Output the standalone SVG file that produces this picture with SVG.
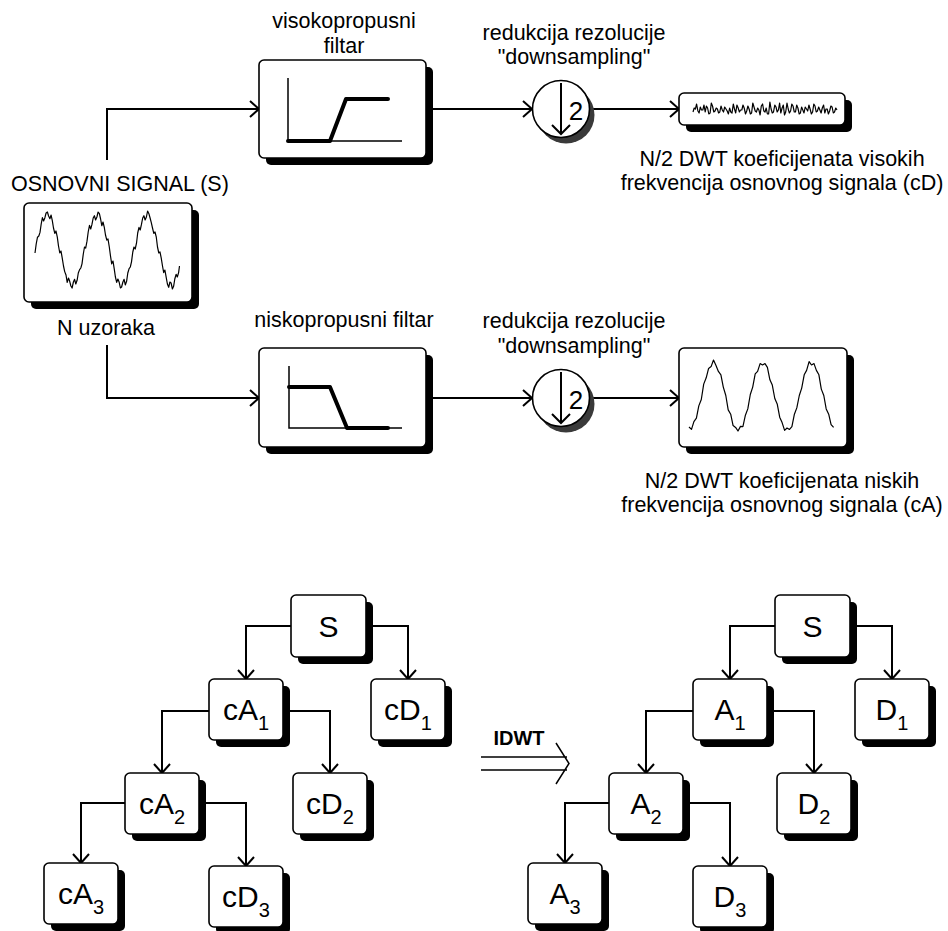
<svg xmlns="http://www.w3.org/2000/svg" width="948" height="931" viewBox="0 0 948 931">
<defs>
<style>
.box{fill:#fff;stroke:#000;stroke-width:1.6}
.sh{fill:#000}
.conn{fill:none;stroke:#000;stroke-width:2}
.ax{fill:none;stroke:#000;stroke-width:1.5}
.thick{fill:none;stroke:#000;stroke-width:4;stroke-linecap:round;stroke-linejoin:round}
.wave{fill:none;stroke:#000;stroke-width:1.2;stroke-linejoin:round}
.lbl{font-family:"Liberation Sans",Arial,sans-serif;font-size:21.5px;text-anchor:middle;fill:#000}
.nd{font-family:"Liberation Sans",Arial,sans-serif;font-size:30px;text-anchor:middle;fill:#000}
.sub{font-size:20px}
</style>
<marker id="arr" viewBox="-11 -10 12 20" refX="0" refY="0" markerWidth="12" markerHeight="20" markerUnits="userSpaceOnUse" orient="auto" overflow="visible">
<path d="M-9,-8 L0,0 L-9,8" fill="none" stroke="#000" stroke-width="2"/>
</marker>
</defs>
<rect width="948" height="931" fill="#fff"/>

<g id="connectors">
<path class="conn" d="M107,160 V109 H259" marker-end="url(#arr)"/>
<path class="conn" d="M426,109 H532" marker-end="url(#arr)"/>
<path class="conn" d="M589,109 H679" marker-end="url(#arr)"/>
<path class="conn" d="M107,345 V398 H259" marker-end="url(#arr)"/>
<path class="conn" d="M426,398 H532" marker-end="url(#arr)"/>
<path class="conn" d="M589,398 H679" marker-end="url(#arr)"/>
<path class="conn" d="M291,626 H246 V679" marker-end="url(#arr)"/>
<path class="conn" d="M366,626 H408 V679" marker-end="url(#arr)"/>
<path class="conn" d="M209,711 H162 V773" marker-end="url(#arr)"/>
<path class="conn" d="M283,711 H330 V773" marker-end="url(#arr)"/>
<path class="conn" d="M125,803 H81 V863" marker-end="url(#arr)"/>
<path class="conn" d="M199,803 H246 V866" marker-end="url(#arr)"/>
<path class="conn" d="M775,626 H730 V679" marker-end="url(#arr)"/>
<path class="conn" d="M850,626 H892 V679" marker-end="url(#arr)"/>
<path class="conn" d="M693,711 H646 V773" marker-end="url(#arr)"/>
<path class="conn" d="M767,711 H814 V773" marker-end="url(#arr)"/>
<path class="conn" d="M609,803 H565 V863" marker-end="url(#arr)"/>
<path class="conn" d="M683,803 H730 V866" marker-end="url(#arr)"/>
</g>

<g id="signal">
<text class="lbl" x="11" y="191" style="text-anchor:start">OSNOVNI SIGNAL (S)</text>
<rect class="sh" x="31" y="210" width="168" height="99" rx="5"/>
<rect class="box" x="24" y="203" width="168" height="99" rx="5"/>
<polyline class="wave" points="35,253 36.2,244 37.5,237.2 38.8,236 40,232.4 41.2,224 42.4,217.7 43.6,221 44.9,217.7 46.1,213 47.4,212 48.6,216 49.9,218.7 51.1,215 52.3,220.7 53.5,228 54.8,233.4 56,231 57.3,237.2 58.5,246 59.8,253 61,251 62.2,257.8 63.5,266 64.7,271.6 66,275 67.2,282.3 68.5,278 69.7,281.3 70.9,286 72.1,288 73.4,282 74.6,279.3 75.8,284 77.1,280.3 78.3,273 79.6,269.6 80.8,268 82,263.8 83.3,254 84.5,247 85.7,248 87,241.2 88.2,232 89.5,225.4 90.7,229 91.9,224.7 93.2,218 94.4,215.7 95.6,220 96.9,217 98.1,212 99.4,213.7 100.6,219 101.8,225.7 103,222 104.3,227.4 105.5,235 106.8,240.2 108,239 109.3,247 110.5,256 111.7,263.8 113,261 114.2,268.6 115.4,277 116.7,282.3 117.9,279 119.2,282.3 120.4,288 121.6,287 122.9,282 124.1,279.3 125.3,285 126.6,281.3 127.8,273 129.1,268.6 130.3,267 131.5,261.8 132.8,252 134,247 135.2,249 136.5,243.2 137.7,233 139,227.4 140.2,230 141.4,224.7 142.7,218 143.9,215.7 145.1,220 146.4,217 147.6,211 148.9,213.7 150.1,218 151.3,222.7 152.5,228 153.8,233.4 155,232 156.3,237.2 157.5,247 158.8,253 160,252 161.2,257.8 162.5,266 163.7,272.6 164.9,270 166.2,277.3 167.4,284 168.7,287.3 169.9,282 171.1,283 172.4,289 173.6,286.3 174.8,279 176.1,274.3 177.3,277 178.6,272.6 179.5,266"/>
<text class="lbl" x="106" y="335">N uzoraka</text>
</g>

<g id="hpf">
<text class="lbl" x="344" y="28">visokopropusni</text>
<text class="lbl" x="344" y="53">filtar</text>
<rect class="sh" x="266" y="67" width="167" height="98" rx="5"/>
<rect class="box" x="259" y="60" width="167" height="98" rx="5"/>
<path class="ax" d="M288,78 V141 H402"/>
<path class="thick" d="M288,141 H330 L346,99 H388"/>
</g>

<g id="lpf">
<text class="lbl" x="344" y="327">niskopropusni filtar</text>
<rect class="sh" x="266" y="355" width="167" height="99" rx="5"/>
<rect class="box" x="259" y="348" width="167" height="99" rx="5"/>
<path class="ax" d="M289,366 V428 H402"/>
<path class="thick" d="M289,387 H330 L347,428 H388"/>
</g>

<g id="down1">
<text class="lbl" x="574" y="40">redukcija rezolucije</text>
<text class="lbl" x="574" y="64">"downsampling"</text>
<circle cx="566" cy="115" r="28.5" fill="#3a3a3a"/>
<circle cx="561" cy="109" r="28.5" fill="#fff" stroke="#000" stroke-width="1.6"/>
<path d="M561,83 V134 M552,125 L561,134 L570,125" fill="none" stroke="#000" stroke-width="2"/>
<text class="lbl" x="576" y="120" style="font-size:26px">2</text>
</g>

<g id="down2">
<text class="lbl" x="574" y="328">redukcija rezolucije</text>
<text class="lbl" x="574" y="353">"downsampling"</text>
<circle cx="566" cy="404" r="28.5" fill="#3a3a3a"/>
<circle cx="561" cy="398" r="28.5" fill="#fff" stroke="#000" stroke-width="1.6"/>
<path d="M561,372 V423 M552,414 L561,423 L570,414" fill="none" stroke="#000" stroke-width="2"/>
<text class="lbl" x="576" y="409" style="font-size:26px">2</text>
</g>

<g id="cD">
<rect class="sh" x="686" y="100" width="166" height="32" rx="5"/>
<rect class="box" x="679" y="93" width="166" height="32" rx="5"/>
<polyline class="wave" points="693,112 694.2,108 695.4,109 696.6,104 697.9,111 699.1,113 700.3,107 701.5,110 702.8,110 704,105 705.2,112 706.4,106 707.6,108 708.8,114 710.1,113 711.3,103 712.5,106 713.8,112 715,111 716.2,108 717.4,109 718.6,113 719.8,112 721,106 722.3,110 723.5,112 724.7,107 726,109 727.2,111 728.4,114 729.6,108 730.8,112 732,113 733.3,104 734.5,109 735.7,113 736.9,105 738.2,108 739.4,112 740.6,110 741.8,110 743,105 744.2,108 745.5,114 746.7,111 747.9,106 749.1,109 750.4,114 751.6,113 752.8,103 754,107 755.2,111 756.4,112 757.7,108 758.9,110 760.1,115 761.3,106 762.6,104 763.8,111 765,112 766.2,108 767.4,114 768.6,114 769.9,102 771.1,109 772.3,113 773.5,112 774.8,105 776,107 777.2,112 778.4,110 779.6,103 780.8,113 782.1,108 783.3,105 784.5,115 785.7,112 787,103 788.2,109 789.4,113 790.6,111 791.8,104 793,106 794.3,112 795.5,112 796.7,105 797.9,108 799.2,114 800.4,113 801.6,107 802.8,110 804,113 805.2,107 806.5,109 807.7,111 808.9,105 810.1,109 811.4,114 812.6,112 813.8,104 815,106 816.2,112 817.4,111 818.7,107 819.9,110 821.1,113 822.3,108 823.6,105 824.8,113 826,109 827.2,109 828.4,114 829.6,111 830.9,106 832.1,107 833.3,113 834.5,112 835.8,108 837,110"/>
<text class="lbl" x="782" y="166">N/2 DWT koeficijenata visokih</text>
<text class="lbl" x="782" y="190">frekvencija osnovnog signala (cD)</text>
</g>

<g id="cA">
<rect class="sh" x="686" y="355" width="168" height="99" rx="5"/>
<rect class="box" x="679" y="348" width="168" height="99" rx="5"/>
<polyline class="wave" points="689,427 691.5,429.4 693.9,421.6 696.4,418.2 698.8,405.9 701.3,399.5 703.7,384.1 706.2,377.8 708.6,368.4 711.1,366.6 713.5,360 716,365.6 718.4,371.4 720.9,374.8 723.3,387.1 725.8,395.5 728.2,409.9 730.7,414.2 733.1,425.6 735.6,427.4 738,431 740.5,426.4 742.9,426.6 745.4,415.2 747.8,408.9 750.3,394.5 752.7,387.1 755.2,373.8 757.6,371.4 760.1,363.6 762.5,365 765,363.6 767.4,367.4 769.9,379.8 772.3,385.1 774.8,398.5 777.2,403.9 779.7,417.2 782.1,422.6 784.6,430.4 787,428 789.5,429.4 791.9,426.6 794.4,414.2 796.8,407.9 799.3,395.5 801.7,388.1 804.2,374.8 806.6,370.4 809.1,361.6 811.5,365 814,363.6 816.4,370.4 818.9,374.8 821.3,389.1 823.8,395.5 826.2,408.9 828.7,414.2 831.1,424.6 833.6,427.4"/>
<text class="lbl" x="782" y="488">N/2 DWT koeficijenata niskih</text>
<text class="lbl" x="782" y="512">frekvencija osnovnog signala (cA)</text>
</g>

<g id="tS">
<rect class="sh" x="298" y="602" width="75" height="62" rx="5"/>
<rect class="box" x="291" y="595" width="75" height="62" rx="5"/>
<text class="nd" x="328.5" y="637">S</text>
</g>
<g id="tcA1">
<rect class="sh" x="216" y="686" width="74" height="61" rx="5"/>
<rect class="box" x="209" y="679" width="74" height="61" rx="5"/>
<text class="nd" x="246" y="720">cA<tspan class="sub" dy="10">1</tspan></text>
</g>
<g id="tcD1">
<rect class="sh" x="378" y="686" width="74" height="61" rx="5"/>
<rect class="box" x="371" y="679" width="74" height="61" rx="5"/>
<text class="nd" x="408" y="720">cD<tspan class="sub" dy="10">1</tspan></text>
</g>
<g id="tcA2">
<rect class="sh" x="132" y="780" width="74" height="61" rx="5"/>
<rect class="box" x="125" y="773" width="74" height="61" rx="5"/>
<text class="nd" x="162" y="814">cA<tspan class="sub" dy="10">2</tspan></text>
</g>
<g id="tcD2">
<rect class="sh" x="300" y="780" width="74" height="61" rx="5"/>
<rect class="box" x="293" y="773" width="74" height="61" rx="5"/>
<text class="nd" x="330" y="814">cD<tspan class="sub" dy="10">2</tspan></text>
</g>
<g id="tcA3">
<rect class="sh" x="51" y="870" width="74" height="61" rx="5"/>
<rect class="box" x="44" y="863" width="74" height="61" rx="5"/>
<text class="nd" x="81" y="904">cA<tspan class="sub" dy="10">3</tspan></text>
</g>
<g id="tcD3">
<rect class="sh" x="216" y="873" width="74" height="61" rx="5"/>
<rect class="box" x="209" y="866" width="74" height="61" rx="5"/>
<text class="nd" x="246" y="907">cD<tspan class="sub" dy="10">3</tspan></text>
</g>

<g id="idwt">
<text x="519" y="745" style="font-family:'Liberation Sans',Arial,sans-serif;font-size:20px;font-weight:bold;text-anchor:middle">IDWT</text>
<path d="M481,757 H567 M481,770 H567 M556,743 L569,763.5 L556,784" fill="none" stroke="#000" stroke-width="1.5"/>
</g>

<g id="rS">
<rect class="sh" x="782" y="602" width="75" height="62" rx="5"/>
<rect class="box" x="775" y="595" width="75" height="62" rx="5"/>
<text class="nd" x="812.5" y="637">S</text>
</g>
<g id="rA1">
<rect class="sh" x="700" y="686" width="74" height="61" rx="5"/>
<rect class="box" x="693" y="679" width="74" height="61" rx="5"/>
<text class="nd" x="730" y="720">A<tspan class="sub" dy="10">1</tspan></text>
</g>
<g id="rD1">
<rect class="sh" x="862" y="686" width="74" height="61" rx="5"/>
<rect class="box" x="855" y="679" width="74" height="61" rx="5"/>
<text class="nd" x="892" y="720">D<tspan class="sub" dy="10">1</tspan></text>
</g>
<g id="rA2">
<rect class="sh" x="616" y="780" width="74" height="61" rx="5"/>
<rect class="box" x="609" y="773" width="74" height="61" rx="5"/>
<text class="nd" x="646" y="814">A<tspan class="sub" dy="10">2</tspan></text>
</g>
<g id="rD2">
<rect class="sh" x="784" y="780" width="74" height="61" rx="5"/>
<rect class="box" x="777" y="773" width="74" height="61" rx="5"/>
<text class="nd" x="814" y="814">D<tspan class="sub" dy="10">2</tspan></text>
</g>
<g id="rA3">
<rect class="sh" x="535" y="870" width="74" height="61" rx="5"/>
<rect class="box" x="528" y="863" width="74" height="61" rx="5"/>
<text class="nd" x="565" y="904">A<tspan class="sub" dy="10">3</tspan></text>
</g>
<g id="rD3">
<rect class="sh" x="700" y="873" width="74" height="61" rx="5"/>
<rect class="box" x="693" y="866" width="74" height="61" rx="5"/>
<text class="nd" x="730" y="907">D<tspan class="sub" dy="10">3</tspan></text>
</g>
</svg>
